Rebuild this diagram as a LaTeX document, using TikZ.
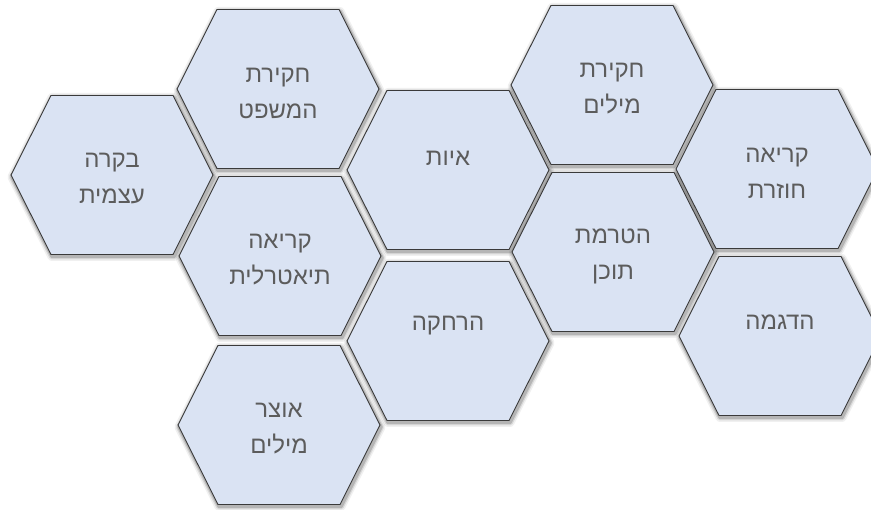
\documentclass[tikz,border=0pt]{standalone}
\usepackage{fontspec}
\newfontfamily\hebfont[Script=Hebrew]{Liberation Sans}
\TeXXeTstate=1
\newcommand{\heb}[1]{{\hebfont\beginR #1\endR}}
\definecolor{hexfill}{RGB}{218,227,243}
\definecolor{hexline}{RGB}{58,58,58}
\definecolor{hextext}{RGB}{92,92,92}
\begin{document}
\begin{tikzpicture}[x=1pt,y=-1pt,
  hexlabel/.style={text=hextext, font=\hebfont\fontsize{24}{36}\selectfont, align=center, inner sep=0pt},
  hexshape/.style={fill=hexfill, draw=hexline, line width=0.9pt, line join=miter},
  hexshade/.style={draw=black, line join=round},
]
\useasboundingbox (0,0) rectangle (871,510);
\def\hexlist{112/175, 278/89, 448/170, 612/85, 777/169, 280/256, 448/341, 613/252, 780/336, 279/425}
% soft shadows
\foreach \x/\y in \hexlist {
  \foreach \w/\o in {9/0.06, 6/0.1, 3.5/0.16} {
    \draw[hexshade, line width=\w pt, opacity=\o] ({\x+1},{\y+2}) ++(-101,0) -- ++(40,-79.5) -- ++(122,0) -- ++(40,79.5) -- ++(-40,79.5) -- ++(-122,0) -- cycle;
  }
}
% hexagons
\foreach \x/\y in \hexlist {
  \draw[hexshape] (\x,\y) ++(-101,0) -- ++(40,-79.5) -- ++(122,0) -- ++(40,79.5) -- ++(-40,79.5) -- ++(-122,0) -- cycle;
}
% labels
\node[hexlabel] (bakara) at (112,179) {\heb{בקרה}\\\heb{עצמית}};
\node[hexlabel] (mishpat) at (278,93) {\heb{חקירת}\\\heb{המשפט}};
\node[hexlabel] (iyut) at (448,158) {\heb{איות}};
\node[hexlabel] (milim) at (612,89) {\heb{חקירת}\\\heb{מילים}};
\node[hexlabel] (hozeret) at (777,173) {\heb{קריאה}\\\heb{חוזרת}};
\node[hexlabel] (teatralit) at (280,260) {\heb{קריאה}\\\heb{תיאטרלית}};
\node[hexlabel] (harhaka) at (448,326) {\heb{הרחקה}};
\node[hexlabel] (hatramat) at (613,256) {\heb{הטרמת}\\\heb{תוכן}};
\node[hexlabel] (hadgama) at (780,322) {\heb{הדגמה}};
\node[hexlabel] (otzar) at (279,429) {\heb{אוצר}\\\heb{מילים}};
\end{tikzpicture}
\end{document}
